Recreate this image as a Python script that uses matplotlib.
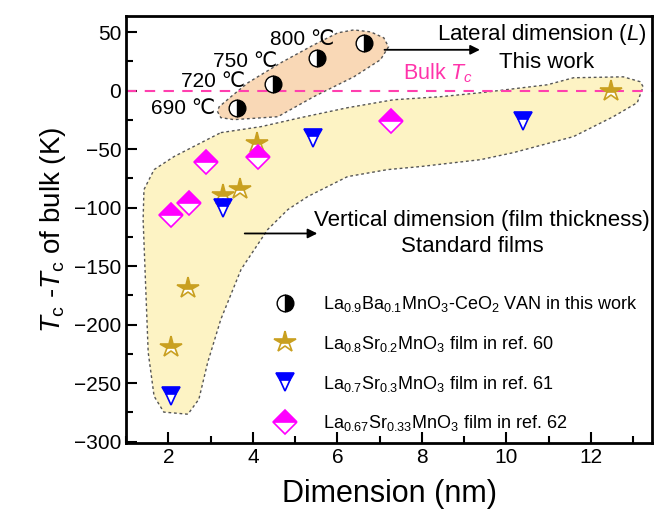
import numpy as np
import matplotlib
matplotlib.use('Agg')
import matplotlib.pyplot as plt
from matplotlib.ticker import MultipleLocator

plt.rcParams['font.family'] = ['Liberation Sans', 'DejaVu Sans']
plt.rcParams['mathtext.fontset'] = 'custom'
plt.rcParams['mathtext.rm'] = 'Liberation Sans'
plt.rcParams['mathtext.it'] = 'Liberation Sans:italic'

# this work (La0.9Ba0.1MnO3-CeO2 VAN), lateral dimension
van_x = [3.62, 4.47, 5.52, 6.63]
van_y = [-15, 6, 28, 41]
van_labels = ['690 ℃', '720 ℃', '750 ℃', '800 ℃']
# where the growth-temperature labels sit (right edge)
van_label_x = [3.10, 3.81, 4.57, 5.94]
van_label_y = [-15, 8, 25, 44]

# ref. 60, La0.8Sr0.2MnO3
lsmo60_x = [2.05, 2.46, 3.29, 3.70, 4.09, 12.48]
lsmo60_y = [-219, -169, -89, -84, -45, 0]

# ref. 61, La0.7Sr0.3MnO3
lsmo61_x = [2.05, 3.30, 5.42, 10.39]
lsmo61_y = [-261, -100, -40, -26]

# ref. 62, La0.67Sr0.33MnO3
lsmo62_x = [2.07, 2.48, 2.89, 4.12, 7.28]
lsmo62_y = [-106, -96, -61, -57, -26]

# shaded guide regions (outline points)
orange_x = [3.16, 3.24, 3.55, 4.59, 5.44, 6.39, 7.02, 7.21, 7.10, 6.79, 6.39, 6.01,
            5.44, 4.66, 3.88, 3.48, 3.20]
orange_y = [-17.7, -23.0, -24.7, -22.2, -5.1, 11.9, 26.5, 37.5, 45.2, 50.3, 52.0, 49.5,
            39.2, 23.9, 6.8, -5.1, -13.7]
yellow_x = [3.24, 4.19, 5.13, 6.24, 7.33, 8.44, 9.39, 10.97, 11.59, 12.77, 13.17, 13.24,
            13.10, 12.53, 11.59, 10.17, 9.39, 7.97, 7.19, 6.24, 5.30, 4.83, 4.35, 3.72,
            3.24, 2.93, 2.72, 2.46, 1.89, 1.66, 1.52, 1.40, 1.42, 1.66, 2.13]
yellow_y = [-35.8, -30.7, -23.0, -14.5, -7.7, -5.1, -1.7, 5.1, 11.1, 11.9, 7.7, 3.4,
            -10.2, -22.2, -39.2, -52.9, -58.9, -64.8, -67.4, -73.4, -90.4, -101.5, -118.6, -152.7,
            -195.4, -232.1, -263.7, -276.5, -274.7, -261.1, -223.5, -110.1, -84.5, -67.4, -56.3]

fig = plt.figure(figsize=(6.54, 5.12), dpi=100)
ax = fig.add_axes([0.193, 0.135, 0.804, 0.834])

ax.fill(yellow_x, yellow_y, facecolor='#fdf3c4', edgecolor='#555555',
        linestyle=(0, (2, 2)), linewidth=1.0, zorder=1)
ax.fill(orange_x, orange_y, facecolor='#f9d8b6', edgecolor='#555555',
        linestyle=(0, (2, 2)), linewidth=1.0, zorder=1)

ax.axhline(0, color='#ff3fae', linestyle=(0, (5, 4)), linewidth=1.5, zorder=2)

ax.plot(van_x, van_y, 'o', ms=12, fillstyle='right', mfc='black', mfcalt='white',
        mec='black', mew=1.0, zorder=5,
        label=r'La$_{0.9}$Ba$_{0.1}$MnO$_3$-CeO$_2$ VAN in this work')
ax.plot(lsmo60_x, lsmo60_y, '*', ms=16, fillstyle='top', mfc='#c9a020', mfcalt='white',
        mec='#c9a020', mew=1.2, zorder=5,
        label=r'La$_{0.8}$Sr$_{0.2}$MnO$_3$ film in ref. 60')
ax.plot(lsmo61_x, lsmo61_y, 'v', ms=13, fillstyle='top', mfc='#0000ff', mfcalt='white',
        mec='#0000ff', mew=1.2, zorder=5,
        label=r'La$_{0.7}$Sr$_{0.3}$MnO$_3$ film in ref. 61')
ax.plot(lsmo62_x, lsmo62_y, 'D', ms=12, fillstyle='top', mfc='#ff00ff', mfcalt='white',
        mec='#ff00ff', mew=1.2, zorder=5,
        label=r'La$_{0.67}$Sr$_{0.33}$MnO$_3$ film in ref. 62')

for x, y, t in zip(van_label_x, van_label_y, van_labels):
    ax.text(x, y, t, fontsize=15, ha='right', va='center', zorder=6)

ax.annotate('', xy=(9.44, 35), xytext=(7.05, 35),
            arrowprops=dict(arrowstyle='-|>', color='black', lw=1.3,
                            mutation_scale=14), zorder=6)
ax.text(10.83, 48, r'Lateral dimension ($L$)', fontsize=16, ha='center', va='center')
ax.text(10.95, 24.5, 'This work', fontsize=16, ha='center', va='center')
ax.text(8.38, 15, r'Bulk $T_c$', fontsize=15.5, color='#ff33aa', ha='center', va='center')

ax.annotate('', xy=(5.59, -122), xytext=(3.74, -122),
            arrowprops=dict(arrowstyle='-|>', color='black', lw=1.3,
                            mutation_scale=14), zorder=6)
ax.text(9.42, -110.5, 'Vertical dimension (film thickness)', fontsize=16,
        ha='center', va='center')
ax.text(9.20, -133.5, 'Standard films', fontsize=16, ha='center', va='center')

leg = ax.legend(loc='upper left', bbox_to_anchor=(0.281, 0.349), frameon=False,
                fontsize=13, handlelength=1.2, handletextpad=1.5, labelspacing=1.1,
                borderpad=0, borderaxespad=0, numpoints=1)

ax.set_xlim(1, 13.45)
ax.set_ylim(-301, 64)
ax.xaxis.set_major_locator(MultipleLocator(2))
ax.xaxis.set_minor_locator(MultipleLocator(1))
ax.yaxis.set_major_locator(MultipleLocator(50))
ax.yaxis.set_minor_locator(MultipleLocator(25))
ax.tick_params(which='both', direction='in', top=False, right=False, width=1.5,
               labelsize=15)
ax.tick_params(which='major', length=8)
ax.tick_params(which='minor', length=5)
for s in ax.spines.values():
    s.set_linewidth(2)

ax.set_xlabel('Dimension (nm)', fontsize=22, labelpad=9)
ax.set_ylabel(r'$T_\mathrm{c}$ -$T_\mathrm{c}$ of bulk (K)', fontsize=20, labelpad=4)

fig.savefig('out.png', dpi=100)
